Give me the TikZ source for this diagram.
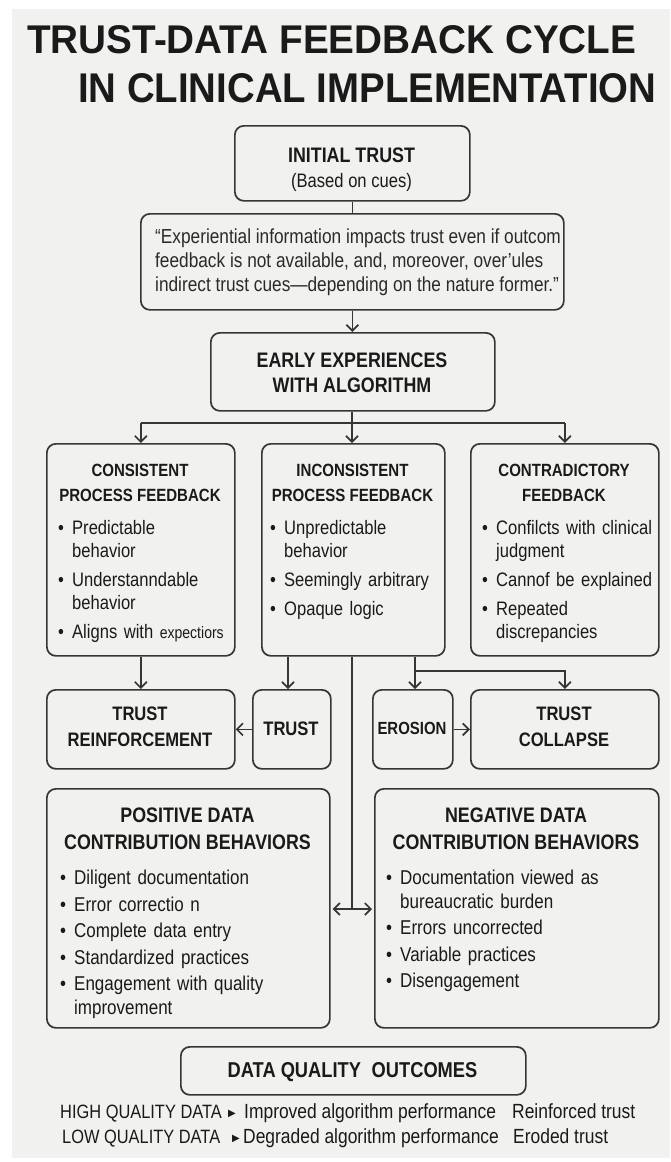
\documentclass[tikz,border=0pt]{standalone}
\usepackage{graphicx}
\usepackage{fontspec}
\setmainfont{Liberation Sans}[FakeStretch=0.85]
\newfontfamily\symfont{DejaVu Sans}
\usetikzlibrary{arrows.meta}

\definecolor{bgc}{HTML}{F1F1EF}
\definecolor{ink}{HTML}{1A1A1A}
\definecolor{edge}{HTML}{363636}
\definecolor{qink}{HTML}{2A2A2A}

% bullet lists with a hanging indent; \nl breaks a line inside an item
\newlength{\bind}\setlength{\bind}{14pt}
\newlength{\igap}\setlength{\igap}{6pt}
\newcommand{\bfirst}{\hangindent=\bind\hangafter=1\noindent\makebox[\bind][l]{\textbullet}}
\newcommand{\bnext}{\par\vspace{\igap}\bfirst}
\newcommand{\nl}{\break}

% rounded box from its top-left and bottom-right corners
\newcommand{\bx}[5]{\node[box, anchor=north west,
  minimum width={(#4-#2)*1pt}, minimum height={(#5-#3)*1pt}] (#1) at (#2,#3) {};}

\begin{document}
\begin{tikzpicture}[x=1pt, y=-1pt,
  box/.style={draw=edge, line width=1.7pt, rounded corners=9pt, inner sep=0pt},
  conn/.style={draw=edge, line width=1.7pt},
  arr/.style={conn, -{Straight Barb[length=6pt,width=12pt]}},
  dbl/.style={conn, {Straight Barb[length=6pt,width=12pt]}-{Straight Barb[length=6pt,width=12pt]}},
  txt/.style={text=ink, inner sep=0pt},
  bighd/.style={txt, align=center, font=\bfseries\fontsize{21}{25}\selectfont},
  midhd/.style={txt, align=center, font=\bfseries\fontsize{17.7}{25}\selectfont},
  rowhd/.style={txt, align=center, font=\bfseries\fontsize{19.5}{26}\selectfont},
  lowhd/.style={txt, align=center, font=\bfseries\fontsize{21}{27}\selectfont},
  midlist/.style={txt, anchor=north west, text width=185pt,
    font=\raggedright\fontsize{19.5}{23}\selectfont},
  lowlist/.style={txt, anchor=north west, text width=270pt,
    font=\raggedright\fontsize{20}{23.5}\selectfont},
  capline/.style={txt, anchor=base west, font=\fontsize{19.3}{24}\selectfont},
  outline/.style={txt, anchor=base west, font=\fontsize{20.5}{24}\selectfont},
  tri/.style={txt, anchor=base west, font=\symfont\fontsize{10}{12}\selectfont},
]
% page and background panel
\useasboundingbox (0,0) rectangle (670,1162);
\fill[white] (0,0) rectangle (670,1162);
\fill[bgc] (12,9) rectangle (670,1158);

% title
\node[txt, anchor=base west] (title1) at (27,53)
  {\resizebox{609pt}{28pt}{\bfseries TRUST-DATA FEEDBACK CYCLE}};
\node[txt, anchor=base west] (title2) at (78,102)
  {\resizebox{578pt}{29pt}{\bfseries IN CLINICAL IMPLEMENTATION}};

% boxes
\bx{init}{234}{125}{469}{200}
\bx{quote}{140}{213}{563}{309}
\bx{early}{210}{332}{494}{410}
\bx{cons}{46}{443}{234}{655}
\bx{incons}{261}{443}{444}{655}
\bx{contra}{470}{443}{658}{655}
\bx{reinf}{46}{689}{234}{768}
\bx{trust}{252}{689}{330}{768}
\bx{eros}{372}{689}{452}{768}
\bx{coll}{470}{689}{658}{768}
\bx{pos}{46}{788}{329}{1027}
\bx{neg}{374}{788}{658}{1027}
\bx{dq}{180}{1046}{525}{1094}

% box texts
\node[txt, anchor=base, font=\bfseries\fontsize{21}{25}\selectfont] (initA) at (351.5,162.5) {INITIAL TRUST};
\node[txt, anchor=base, font=\fontsize{19.5}{24}\selectfont] (initB) at (351.5,187) {(Based on cues)};

\node[txt, anchor=north west, align=left, text=qink, font=\fontsize{20.3}{24}\selectfont] (qtext) at (155,229)
  {“Experiential information impacts trust even if outcom\\
   feedback is not available, and, moreover, over’ules\\
   indirect trust cues—depending on the nature former.”};

\node[bighd] (earlyT) at (352,372.5) {EARLY EXPERIENCES\\WITH ALGORITHM};

\node[midhd] (consT) at (140,482.5) {CONSISTENT\\PROCESS FEEDBACK};
\node[midhd] (inconsT) at (352.5,482.5) {INCONSISTENT\\PROCESS FEEDBACK};
\node[midhd] (contraT) at (564,482.5) {CONTRADICTORY\\FEEDBACK};

\node[midlist] (consL) at (58,520) {\bfirst Predictable\nl behavior
  \bnext Understanndable\nl behavior
  \bnext Aligns with {\fontsize{16.5}{23}\selectfont expectiors}\par};
\node[midlist] (inconsL) at (270,520) {\bfirst Unpredictable\nl behavior
  \bnext Seemingly arbitrary
  \bnext Opaque logic\par};
\node[midlist] (contraL) at (482,520) {\bfirst Confilcts with clinical\nl judgment
  \bnext Cannof be explained
  \bnext Repeated\nl discrepancies\par};

\node[rowhd] (reinfT) at (140,727) {TRUST\\REINFORCEMENT};
\node[rowhd] (trustT) at (291,728.5) {TRUST};
\node[txt, font=\bfseries\fontsize{17.6}{22}\selectfont] (erosT) at (412,728.5) {EROSION};
\node[rowhd] (collT) at (564,727) {TRUST\\COLLAPSE};

\node[lowhd] (posT) at (187.5,828.5) {POSITIVE DATA\\CONTRIBUTION BEHAVIORS};
\node[lowhd] (negT) at (516,828.5) {NEGATIVE DATA\\CONTRIBUTION BEHAVIORS};

\setlength{\igap}{3pt}
\node[lowlist] (posL) at (60,870) {\bfirst Diligent documentation
  \bnext Error correctio n
  \bnext Complete data entry
  \bnext Standardized practices
  \bnext Engagement with quality\nl improvement\par};
\node[lowlist] (negL) at (386,870) {\bfirst Documentation viewed as\nl bureaucratic burden
  \bnext Errors uncorrected
  \bnext Variable practices
  \bnext Disengagement\par};

\node[txt, font=\bfseries\fontsize{21.5}{25}\selectfont] (dqT) at (352.5,1072) {DATA QUALITY\hspace{0.5em}OUTCOMES};

% outcome lines
\node[capline] (hiA) at (60,1118) {HIGH QUALITY DATA};
\node[tri] (hiM) at (228,1116) {▶};
\node[outline] (hiB) at (244,1118) {Improved algorithm performance};
\node[outline] (hiC) at (512,1118) {Reinforced trust};
\node[capline] (loA) at (62,1143) {LOW QUALITY DATA};
\node[tri] (loM) at (232,1141) {▶};
\node[outline] (loB) at (243,1143) {Degraded algorithm performance};
\node[outline] (loC) at (513,1143) {Eroded trust};

% connectors
\coordinate (split) at (352,423);
\coordinate (tx) at (288,0);
\coordinate (ex) at (415,0);
\coordinate (ey) at (0,671);
\coordinate (hub) at (352,909);

\draw[conn] (init.south) -- (quote.north);
\draw[arr] (quote.south) -- (quote.south |- early.north);
\draw[conn] (early.south -| split) -- (split);
\draw[conn] (cons.north |- split) -- (contra.north |- split);
\draw[arr] (cons.north |- split) -- (cons.north);
\draw[arr] (split) -- (incons.north -| split);
\draw[arr] (contra.north |- split) -- (contra.north);

\draw[arr] (cons.south) -- (reinf.north);
\draw[arr] (incons.south -| tx) -- (trust.north -| tx);
\draw[arr] (trust.west) -- (reinf.east);
\draw[conn] (incons.south -| hub) -- (hub);
\draw[dbl, shorten <=2pt, shorten >=2pt] (pos.east |- hub) -- (neg.west |- hub);
\draw[arr] (incons.south -| ex) -- (eros.north -| ex);
\draw[arr] (ex |- ey) -| (coll.north);
\draw[arr] (eros.east) -- (coll.west);
\end{tikzpicture}
\end{document}
